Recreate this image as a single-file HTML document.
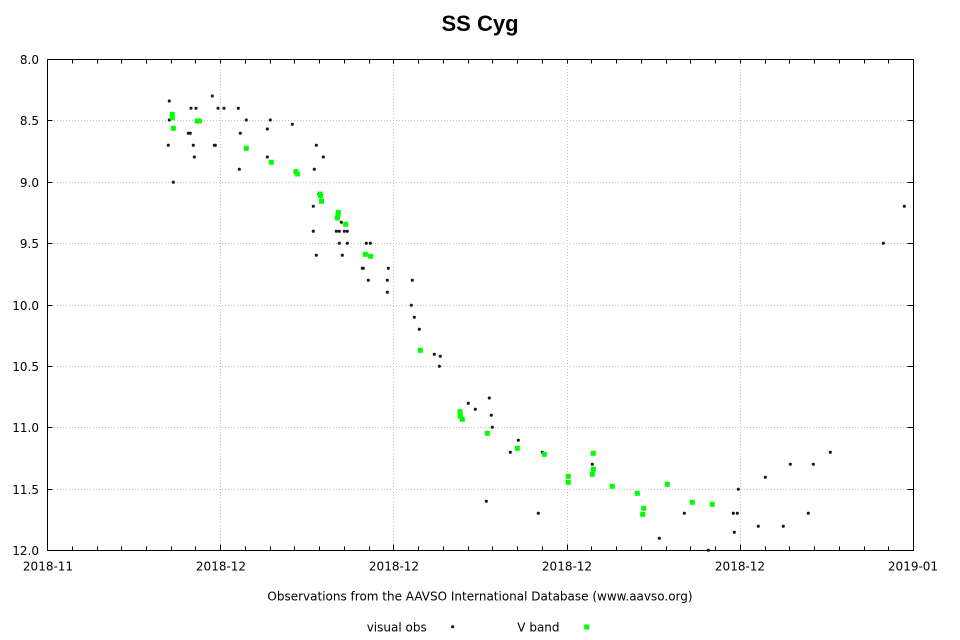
<!DOCTYPE html>
<html>
<head>
<meta charset="utf-8">
<style>
  html, body { margin: 0; padding: 0; background: #ffffff; }
  svg { display: block; }
  .t { font-family: "DejaVu Sans", "Liberation Sans", sans-serif; font-size: 12px; fill: #000; }
  .title { font-family: "Liberation Sans", "DejaVu Sans", sans-serif; font-size: 22px; font-weight: bold; fill: #000; }
  .k rect { rx: 1px; ry: 1px; }
</style>
</head>
<body>
<svg width="960" height="640" viewBox="0 0 960 640" xmlns="http://www.w3.org/2000/svg">
  <rect x="0" y="0" width="960" height="640" fill="#ffffff"/>

  <text class="title" x="480" y="31" text-anchor="middle">SS Cyg</text>

  <g stroke="#c4c4c4" stroke-width="1" stroke-dasharray="1,2" fill="none">
    <line x1="48" y1="120.5" x2="913" y2="120.5"/>
    <line x1="48" y1="182.5" x2="913" y2="182.5"/>
    <line x1="48" y1="243.5" x2="913" y2="243.5"/>
    <line x1="48" y1="305.5" x2="913" y2="305.5"/>
    <line x1="48" y1="366.5" x2="913" y2="366.5"/>
    <line x1="48" y1="427.5" x2="913" y2="427.5"/>
    <line x1="48" y1="489.5" x2="913" y2="489.5"/>
    <line x1="220.5" y1="60" x2="220.5" y2="550"/>
    <line x1="393.5" y1="60" x2="393.5" y2="550"/>
    <line x1="567.5" y1="60" x2="567.5" y2="550"/>
    <line x1="740.5" y1="60" x2="740.5" y2="550"/>
  </g>

  <g stroke="#000" stroke-width="1" fill="none">
    <path d="M47.5 120.5h5M47.5 182.5h5M47.5 243.5h5M47.5 305.5h5M47.5 366.5h5M47.5 427.5h5M47.5 489.5h5M913.5 120.5h-6M913.5 182.5h-6M913.5 243.5h-6M913.5 305.5h-6M913.5 366.5h-6M913.5 427.5h-6M913.5 489.5h-6"/>
    <path d="M72.5 550.5v-4M97.5 550.5v-4M121.5 550.5v-4M146.5 550.5v-4M171.5 550.5v-4M195.5 550.5v-4M245.5 550.5v-4M270.5 550.5v-4M294.5 550.5v-4M319.5 550.5v-4M344.5 550.5v-4M369.5 550.5v-4M418.5 550.5v-4M443.5 550.5v-4M468.5 550.5v-4M492.5 550.5v-4M517.5 550.5v-4M542.5 550.5v-4M591.5 550.5v-4M616.5 550.5v-4M641.5 550.5v-4M666.5 550.5v-4M690.5 550.5v-4M715.5 550.5v-4M765.5 550.5v-4M789.5 550.5v-4M814.5 550.5v-4M839.5 550.5v-4M864.5 550.5v-4M888.5 550.5v-4"/>
    <path d="M220.5 550.5v-6M393.5 550.5v-6M567.5 550.5v-6M740.5 550.5v-6"/>
    <path d="M72.5 59.5v4M97.5 59.5v4M121.5 59.5v4M146.5 59.5v4M171.5 59.5v4M195.5 59.5v4M220.5 59.5v4M245.5 59.5v4M270.5 59.5v4M294.5 59.5v4M319.5 59.5v4M344.5 59.5v4M369.5 59.5v4M393.5 59.5v4M418.5 59.5v4M443.5 59.5v4M468.5 59.5v4M492.5 59.5v4M517.5 59.5v4M542.5 59.5v4M567.5 59.5v4M591.5 59.5v4M616.5 59.5v4M641.5 59.5v4M666.5 59.5v4M690.5 59.5v4M715.5 59.5v4M740.5 59.5v4M765.5 59.5v4M789.5 59.5v4M814.5 59.5v4M839.5 59.5v4M864.5 59.5v4M888.5 59.5v4"/>
  </g>

  <rect x="47.5" y="59.5" width="866" height="491" fill="none" stroke="#000" stroke-width="1"/>

  <g class="t" text-anchor="end">
    <text x="39" y="64">8.0</text>
    <text x="39" y="125">8.5</text>
    <text x="39" y="187">9.0</text>
    <text x="39" y="248">9.5</text>
    <text x="39" y="310">10.0</text>
    <text x="39" y="371">10.5</text>
    <text x="39" y="432">11.0</text>
    <text x="39" y="494">11.5</text>
    <text x="39" y="555">12.0</text>
  </g>

  <g class="t" text-anchor="middle">
    <text x="48" y="570.5">2018-11</text>
    <text x="221" y="570.5">2018-12</text>
    <text x="394" y="570.5">2018-12</text>
    <text x="567" y="570.5">2018-12</text>
    <text x="740" y="570.5">2018-12</text>
    <text x="913" y="570.5">2019-01</text>
  </g>

  <text class="t" x="480" y="600.5" text-anchor="middle">Observations from the AAVSO International Database (www.aavso.org)</text>

  <g class="k" fill="#1a1a1a">
    <rect x="167.8" y="99.5" width="3" height="3"/>
    <rect x="210.8" y="94.5" width="3" height="3"/>
    <rect x="189.5" y="106.8" width="3" height="3"/>
    <rect x="194.5" y="106.8" width="3" height="3"/>
    <rect x="216.5" y="106.8" width="3" height="3"/>
    <rect x="222.5" y="106.8" width="3" height="3"/>
    <rect x="236.8" y="106.8" width="3" height="3"/>
    <rect x="167.8" y="118.5" width="3" height="3"/>
    <rect x="244.8" y="118.5" width="3" height="3"/>
    <rect x="268.8" y="118.5" width="3" height="3"/>
    <rect x="290.8" y="122.8" width="3" height="3"/>
    <rect x="265.8" y="127.5" width="3" height="3"/>
    <rect x="186.8" y="131.8" width="3" height="3"/>
    <rect x="188.8" y="131.8" width="3" height="3"/>
    <rect x="238.8" y="131.8" width="3" height="3"/>
    <rect x="166.8" y="143.8" width="3" height="3"/>
    <rect x="191.8" y="143.8" width="3" height="3"/>
    <rect x="212.8" y="143.8" width="3" height="3"/>
    <rect x="213.8" y="143.8" width="3" height="3"/>
    <rect x="314.8" y="143.8" width="3" height="3"/>
    <rect x="192.8" y="155.5" width="3" height="3"/>
    <rect x="265.8" y="155.5" width="3" height="3"/>
    <rect x="321.8" y="155.5" width="3" height="3"/>
    <rect x="237.8" y="167.8" width="3" height="3"/>
    <rect x="312.8" y="167.8" width="3" height="3"/>
    <rect x="171.8" y="180.8" width="3" height="3"/>
    <rect x="317.2" y="192.5" width="3" height="3"/>
    <rect x="311.8" y="204.8" width="3" height="3"/>
    <rect x="339.8" y="220.8" width="3" height="3"/>
    <rect x="311.8" y="229.8" width="3" height="3"/>
    <rect x="334.8" y="229.8" width="3" height="3"/>
    <rect x="337.8" y="229.8" width="3" height="3"/>
    <rect x="342.8" y="229.8" width="3" height="3"/>
    <rect x="345.8" y="229.8" width="3" height="3"/>
    <rect x="337.8" y="241.8" width="3" height="3"/>
    <rect x="345.8" y="241.8" width="3" height="3"/>
    <rect x="364.8" y="241.8" width="3" height="3"/>
    <rect x="368.8" y="241.8" width="3" height="3"/>
    <rect x="314.8" y="253.8" width="3" height="3"/>
    <rect x="340.8" y="253.8" width="3" height="3"/>
    <rect x="360.8" y="266.8" width="3" height="3"/>
    <rect x="361.8" y="266.8" width="3" height="3"/>
    <rect x="386.8" y="266.8" width="3" height="3"/>
    <rect x="366.8" y="278.8" width="3" height="3"/>
    <rect x="385.8" y="278.8" width="3" height="3"/>
    <rect x="410.8" y="278.8" width="3" height="3"/>
    <rect x="385.8" y="290.8" width="3" height="3"/>
    <rect x="409.8" y="303.8" width="3" height="3"/>
    <rect x="412.8" y="315.8" width="3" height="3"/>
    <rect x="417.8" y="327.8" width="3" height="3"/>
    <rect x="432.8" y="352.8" width="3" height="3"/>
    <rect x="438.8" y="354.8" width="3" height="3"/>
    <rect x="437.8" y="364.8" width="3" height="3"/>
    <rect x="487.8" y="396.5" width="3" height="3"/>
    <rect x="466.8" y="401.8" width="3" height="3"/>
    <rect x="473.8" y="407.8" width="3" height="3"/>
    <rect x="489.8" y="413.8" width="3" height="3"/>
    <rect x="490.8" y="425.8" width="3" height="3"/>
    <rect x="516.8" y="438.8" width="3" height="3"/>
    <rect x="508.8" y="450.8" width="3" height="3"/>
    <rect x="540.8" y="450.8" width="3" height="3"/>
    <rect x="484.8" y="499.8" width="3" height="3"/>
    <rect x="590.8" y="462.8" width="3" height="3"/>
    <rect x="536.8" y="511.8" width="3" height="3"/>
    <rect x="682.8" y="511.8" width="3" height="3"/>
    <rect x="657.8" y="536.8" width="3" height="3"/>
    <rect x="706.8" y="548.8" width="3" height="3"/>
    <rect x="828.8" y="450.8" width="3" height="3"/>
    <rect x="788.8" y="462.8" width="3" height="3"/>
    <rect x="811.8" y="462.8" width="3" height="3"/>
    <rect x="763.8" y="475.8" width="3" height="3"/>
    <rect x="736.8" y="487.8" width="3" height="3"/>
    <rect x="731.8" y="511.8" width="3" height="3"/>
    <rect x="735.8" y="511.8" width="3" height="3"/>
    <rect x="806.8" y="511.8" width="3" height="3"/>
    <rect x="756.8" y="524.8" width="3" height="3"/>
    <rect x="781.8" y="524.8" width="3" height="3"/>
    <rect x="732.8" y="530.8" width="3" height="3"/>
    <rect x="902.8" y="204.8" width="3" height="3"/>
    <rect x="881.8" y="241.8" width="3" height="3"/>
  </g>

  <g fill="#00ff00">
    <rect x="169.8" y="111.8" width="5" height="5"/>
    <rect x="169.8" y="115.2" width="5" height="5"/>
    <rect x="170.8" y="125.8" width="5" height="5"/>
    <rect x="194.8" y="118.5" width="5" height="5"/>
    <rect x="196.8" y="118.5" width="5" height="5"/>
    <rect x="243.8" y="145.8" width="5" height="5"/>
    <rect x="268.8" y="159.8" width="5" height="5"/>
    <rect x="293.5" y="169.2" width="5" height="5"/>
    <rect x="294.8" y="171.5" width="5" height="5"/>
    <rect x="317.5" y="191.5" width="5" height="5"/>
    <rect x="318.2" y="193.2" width="5" height="5"/>
    <rect x="319" y="198.8" width="5" height="5"/>
    <rect x="335.8" y="209.8" width="5" height="5"/>
    <rect x="335.5" y="212.5" width="5" height="5"/>
    <rect x="334.8" y="215.5" width="5" height="5"/>
    <rect x="343.2" y="221.8" width="5" height="5"/>
    <rect x="362.8" y="251.8" width="5" height="5"/>
    <rect x="368.2" y="253.8" width="5" height="5"/>
    <rect x="417.8" y="347.8" width="5" height="5"/>
    <rect x="457.5" y="409.2" width="5" height="5"/>
    <rect x="457.8" y="413.5" width="5" height="5"/>
    <rect x="459.8" y="416.8" width="5" height="5"/>
    <rect x="484.8" y="430.8" width="5" height="5"/>
    <rect x="514.8" y="445.8" width="5" height="5"/>
    <rect x="541.8" y="451.8" width="5" height="5"/>
    <rect x="590.8" y="450.8" width="5" height="5"/>
    <rect x="565.8" y="473.8" width="5" height="5"/>
    <rect x="565.8" y="479.8" width="5" height="5"/>
    <rect x="590.8" y="466.8" width="5" height="5"/>
    <rect x="589.8" y="471.8" width="5" height="5"/>
    <rect x="609.8" y="483.8" width="5" height="5"/>
    <rect x="664.8" y="481.8" width="5" height="5"/>
    <rect x="634.8" y="490.8" width="5" height="5"/>
    <rect x="641.2" y="505.8" width="5" height="5"/>
    <rect x="640.2" y="511.8" width="5" height="5"/>
    <rect x="689.8" y="499.8" width="5" height="5"/>
    <rect x="709.8" y="501.8" width="5" height="5"/>
  </g>

  <text class="t" x="366.7" y="631.5">visual obs</text>
  <rect x="451.2" y="625.2" width="3" height="3" rx="1" fill="#1a1a1a"/>
  <text class="t" x="517.3" y="631.5">V band</text>
  <rect x="584.2" y="624.5" width="5" height="5" fill="#00ff00"/>
</svg>
</body>
</html>
